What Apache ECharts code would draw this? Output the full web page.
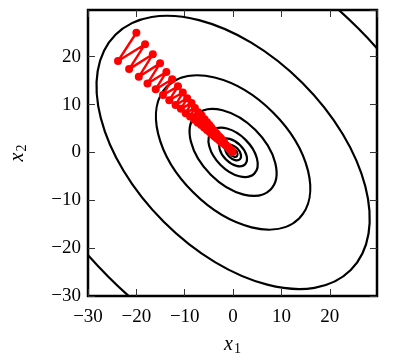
<!DOCTYPE html>
<html>
<head>
<meta charset="utf-8">
<script src="https://cdn.jsdelivr.net/npm/echarts@6/dist/echarts.min.js"></script>
<style>
  html, body { margin: 0; background: #fff; }
  #chart { width: 396px; height: 361px; }
</style>
</head>
<body>
<div id="chart"></div>
<script>
// contour ellipses centred on the origin, long axis along (1,-1)
const contourMajor = [60.5, 34.4, 19.3, 10.9, 6.2, 3.5, 2.0, 1.1]
const contourMinor = [36.8, 20.5, 11.8, 6.6, 3.7, 2.1, 1.2, 0.67]

// gradient descent iterates
const pathX = [-20.0, -23.8, -18.2, -21.5, -16.6, -19.5, -15.1, -17.7, -13.8, -16.0,
  -12.6, -14.5, -11.4, -13.2, -10.4, -11.9, -9.5, -10.8, -8.6, -9.8,
  -7.9, -8.9, -7.2, -8.0, -6.5, -7.3, -5.9, -6.6, -5.4, -6.0,
  -4.9, -5.4, -4.5, -4.9, -4.1, -4.5, -3.7, -4.0, -3.4, -3.7,
  -3.1, -3.3, -2.8, -3.0, -2.5, -2.7, -2.3, -2.5, -2.1, -2.3,
  -1.9, -1.8, -1.7, -1.5, -1.4, -1.25, -1.0, -0.85, -0.7, -0.6,
  -0.5, -0.3, -0.2, -0.1]
const pathY = [25.0, 19.1, 22.6, 17.4, 20.5, 15.8, 18.6, 14.4, 16.8, 13.2,
  15.3, 12.0, 13.8, 10.9, 12.5, 9.9, 11.3, 9.1, 10.3, 8.2,
  9.3, 7.5, 8.4, 6.8, 7.7, 6.2, 6.9, 5.7, 6.3, 5.2,
  5.7, 4.7, 5.2, 4.3, 4.7, 3.9, 4.2, 3.5, 3.9, 3.2,
  3.5, 2.9, 3.2, 2.7, 2.9, 2.4, 2.6, 2.2, 2.4, 2.0,
  2.1, 1.9, 1.7, 1.5, 1.4, 1.25, 1.05, 0.85, 0.7, 0.55,
  0.5, 0.3, 0.2, 0.1]

const serif = 'Liberation Serif'
const fmt = v => (v < 0 ? '\u2212' + (-v) : String(v))

const chart = echarts.init(document.getElementById('chart'))

const baseAxis = {
  type: 'value',
  min: -30,
  max: 29.75,
  interval: 10,
  axisLine: { show: false, onZero: false },
  axisTick: { inside: true, length: 7, lineStyle: { color: '#333', width: 1 } },
  splitLine: { show: false }
}

const nameRich = {
  i: { fontFamily: serif, fontStyle: 'italic', fontSize: 20, color: '#000' },
  s: { fontFamily: serif, fontSize: 14, color: '#000', padding: [8, 0, 0, 1] }
}

chart.setOption({
  animation: false,
  grid: {
    left: 87, right: 19, top: 10, bottom: 63,
    show: true, borderColor: '#000', borderWidth: 2.5, backgroundColor: 'transparent'
  },
  xAxis: [
    {
      ...baseAxis,
      position: 'bottom',
      axisLabel: { showMaxLabel: false, formatter: fmt, fontFamily: serif, fontSize: 19, color: '#000', margin: 12 },
      name: '{i|x}{s|1}',
      nameLocation: 'middle',
      nameGap: 38,
      nameTextStyle: { rich: nameRich }
    },
    { ...baseAxis, position: 'top', axisLabel: { show: false } }
  ],
  yAxis: [
    {
      ...baseAxis,
      position: 'left',
      axisLabel: { showMaxLabel: false, formatter: fmt, fontFamily: serif, fontSize: 19, color: '#000', margin: 7 },
      name: '{i|x}{s|2}',
      nameLocation: 'middle',
      nameRotate: 90,
      nameGap: 59,
      nameTextStyle: { rich: nameRich }
    },
    { ...baseAxis, position: 'right', axisLabel: { show: false } }
  ],
  series: [
    {
      type: 'custom',
      clip: true,
      data: contourMajor.map((a, i) => [0, 0, a, contourMinor[i]]),
      renderItem(params, api) {
        const c = api.coord([api.value(0), api.value(1)])
        const rx = api.size([api.value(2), 0])[0]
        const ry = api.size([0, api.value(3)])[1]
        return {
          type: 'ellipse',
          shape: { cx: c[0], cy: c[1], rx: rx, ry: ry },
          rotation: -Math.PI / 4,
          originX: c[0],
          originY: c[1],
          style: { fill: 'none', stroke: '#000', lineWidth: 2.2 }
        }
      },
      z: 2
    },
    {
      type: 'line',
      data: pathX.map((x, i) => [x, pathY[i]]),
      symbol: 'circle',
      symbolSize: 8,
      showSymbol: true,
      lineStyle: { color: '#ff0000', width: 2.4 },
      itemStyle: { color: '#ff0000' },
      z: 3
    }
  ]
})
</script>
</body>
</html>
